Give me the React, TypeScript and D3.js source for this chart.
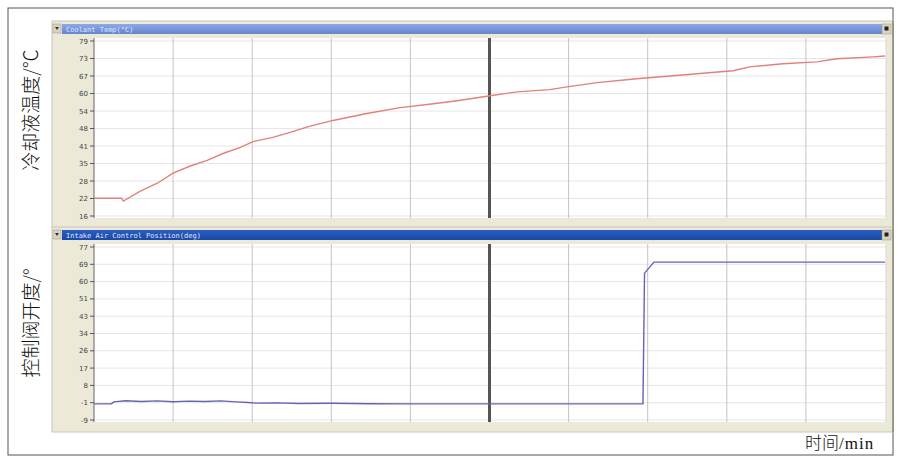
import React from 'react';
import * as d3 from 'd3';

// time axis is unlabeled in the picture, 0..100 spans the 10 grid divisions
const timeGrid = [0, 10, 20, 30, 40, 50, 60, 70, 80, 90, 100];
const cursorTime = 50;

const tempTickLabels = ['16', '22', '28', '35', '41', '48', '54', '60', '67', '73', '79'];
const valveTickLabels = ['-9', '-1', '8', '17', '26', '34', '43', '51', '60', '69', '77'];

const tempTime = [0, 3.5, 3.7, 5.8, 8, 10, 12.1, 14.3, 16.3, 18.5, 20.1, 22.6, 24.8, 27.1, 30.2, 34.5, 38.7, 42.9, 45.9, 50.1, 53.5, 57.6, 59.8, 63.6, 68.6, 73.2, 76.2, 80.8, 82.9, 87.1, 91.4, 93.9, 98.5, 100];
const tempValue = [22.4, 22.4, 21.4, 24.9, 27.8, 31.4, 33.9, 36, 38.5, 40.7, 42.8, 44.3, 46.1, 48.2, 50.4, 52.9, 55, 56.4, 57.5, 59.3, 60.7, 61.5, 62.5, 64, 65.4, 66.5, 67.2, 68.3, 69.7, 70.8, 71.5, 72.6, 73.3, 73.6];

const valveTime = [0, 2.2, 2.5, 4, 6, 8, 10, 12, 14, 16, 18, 19.5, 20.5, 23, 26, 30, 35, 40, 50, 60, 69.4, 69.6, 70.8, 100];
const valveValue = [-1, -1, 0, 0.6, 0.2, 0.5, 0.1, 0.4, 0.2, 0.5, 0, -0.3, -0.6, -0.5, -0.8, -0.7, -0.9, -1, -1, -1, -1, 64, 69.5, 69.5];

const W = 902;
const H = 458;
const plotLeft = 94;
const plotRight = 886;

const x = d3.scaleLinear().domain([0, 100]).range([plotLeft, 885]);

type PanelProps = {
  top: number;
  bottom: number;
  title: string;
  titleColor: [string, string];
  domain: [number, number];
  tickLabels: string[];
  times: number[];
  values: number[];
  stroke: string;
};

function Panel(p: PanelProps) {
  const plotTop = p.top + 17;
  const plotBottom = p.bottom - 4;
  const y = d3.scaleLinear().domain(p.domain).range([plotBottom - 2, plotTop + 3]);
  const tickVals = d3.range(p.tickLabels.length).map(
    (i) => p.domain[0] + (i * (p.domain[1] - p.domain[0])) / (p.tickLabels.length - 1)
  );
  const line = d3
    .line<number>()
    .x((_, i) => x(p.times[i]))
    .y((v) => y(v));
  const gid = 'g' + p.top;

  return (
    <g>
      <defs>
        <linearGradient id={gid} x1="0" y1="0" x2="0" y2="1">
          <stop offset="0" stopColor={p.titleColor[0]} />
          <stop offset="1" stopColor={p.titleColor[1]} />
        </linearGradient>
      </defs>
      {/* window frame */}
      <rect x={52} y={p.top} width={841} height={p.bottom + 6 - p.top} fill="#ece9d8" stroke="#c9c6b6" />
      <line x1={893} y1={p.top} x2={893} y2={p.bottom + 6} stroke="#8a877a" strokeWidth={1.5} />
      {/* title bar */}
      <rect x={53} y={p.top + 3} width={8} height={9} fill="#d8d4c4" stroke="#9a9788" strokeWidth={0.5} />
      <path d={`M55,${p.top + 6} l4,0 l-2,3 z`} fill="#333" />
      <rect x={62} y={p.top + 3} width={820} height={10} fill={`url(#${gid})`} />
      <text x={66} y={p.top + 10.5} fontSize={7} fill="#dfe7fa" fontFamily="DejaVu Sans Mono">
        {p.title}
      </text>
      <rect x={882} y={p.top + 3} width={9} height={10} fill="#d8d4c4" stroke="#9a9788" strokeWidth={0.5} />
      <rect x={884.5} y={p.top + 5.5} width={4} height={4} fill="#222" />
      {/* plot area */}
      <rect x={plotLeft} y={plotTop} width={plotRight - plotLeft} height={plotBottom - plotTop} fill="#ffffff" />
      {tickVals.map((v, i) => (
        <line key={'h' + i} x1={plotLeft} x2={plotRight} y1={y(v)} y2={y(v)} stroke="#e6e6e6" />
      ))}
      {timeGrid.slice(1, -1).map((t) => (
        <line key={'v' + t} x1={x(t)} x2={x(t)} y1={plotTop} y2={plotBottom} stroke="#c4c4c4" />
      ))}
      <line x1={plotRight} x2={plotRight} y1={plotTop} y2={plotBottom} stroke="#d8d8d8" />
      <line x1={x(cursorTime)} x2={x(cursorTime)} y1={plotTop} y2={plotBottom} stroke="#555" strokeWidth={3} />
      {/* y axis */}
      <line x1={plotLeft} x2={plotLeft} y1={plotTop} y2={plotBottom} stroke="#666" />
      {tickVals.map((v, i) => (
        <g key={'t' + i}>
          <line x1={plotLeft - 4} x2={plotLeft} y1={y(v)} y2={y(v)} stroke="#555" />
          <text x={plotLeft - 6} y={y(v) + 2.5} fontSize={7} fill="#444" textAnchor="end" fontFamily="DejaVu Sans">
            {p.tickLabels[i]}
          </text>
        </g>
      ))}
      <path d={line(p.values) || ''} fill="none" stroke={p.stroke} strokeWidth={1.4} />
    </g>
  );
}

export default function App() {
  return (
    <svg width={W} height={H} style={{ display: 'block', position: 'absolute', left: 0, top: 0 }}>
      <style>{'body{margin:0}'}</style>
      <rect x={0} y={0} width={W} height={H} fill="#ffffff" />
      <rect x={8} y={8} width={885} height={447} fill="none" stroke="#555" strokeWidth={1} />
      <Panel
        top={21}
        bottom={222}
        title="Coolant Temp(°C)"
        titleColor={['#8ea9e6', '#6484d0']}
        domain={[16, 79]}
        tickLabels={tempTickLabels}
        times={tempTime}
        values={tempValue}
        stroke="#e4807a"
      />
      <Panel
        top={227}
        bottom={426}
        title="Intake Air Control Position(deg)"
        titleColor={['#2a5cc0', '#1a48a8']}
        domain={[-9, 77]}
        tickLabels={valveTickLabels}
        times={valveTime}
        values={valveValue}
        stroke="#6464b4"
      />
      <text
        transform="translate(38,110) rotate(-90)"
        textAnchor="middle"
        fontSize={19}
        fontWeight={300}
        fontFamily="Noto Sans CJK SC"
        fill="#111"
      >
        冷却液温度/℃
      </text>
      <text
        transform="translate(38,323) rotate(-90)"
        textAnchor="middle"
        fontSize={19}
        fontWeight={300}
        fontFamily="Noto Sans CJK SC"
        fill="#111"
      >
        控制阀开度/°
      </text>
      <text x={805} y={449} fontSize={17} fontWeight={300} fontFamily="Noto Sans CJK SC" fill="#111">
        时间
        <tspan fontFamily="Liberation Serif" fontSize={17} fontWeight={400} letterSpacing={1}>/min</tspan>
      </text>
    </svg>
  );
}
